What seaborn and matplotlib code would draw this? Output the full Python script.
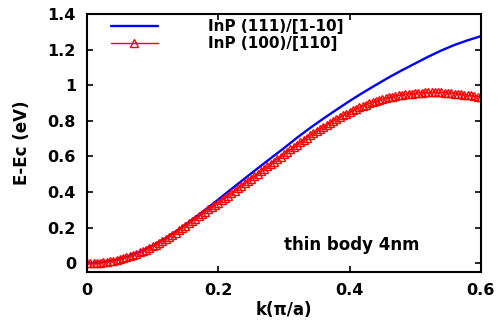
import numpy as np
import pandas as pd
import matplotlib
matplotlib.use("Agg")
import matplotlib.pyplot as plt
import seaborn as sns

# k grid (pi/a) and band energies
k_111 = [0.00, 0.02, 0.04, 0.06, 0.08, 0.10, 0.12, 0.14, 0.16, 0.18,
         0.20, 0.22, 0.24, 0.26, 0.28, 0.30, 0.32, 0.34, 0.36, 0.38,
         0.40, 0.42, 0.44, 0.46, 0.48, 0.50, 0.52, 0.54, 0.56, 0.58, 0.60]
e_111 = [0.000, 0.004, 0.016, 0.036, 0.064, 0.100, 0.142, 0.190, 0.244, 0.300,
         0.358, 0.417, 0.475, 0.533, 0.590, 0.646, 0.705, 0.760, 0.812, 0.862,
         0.911, 0.957, 1.001, 1.044, 1.084, 1.122, 1.160, 1.195, 1.226, 1.252, 1.275]

k_100 = np.round(np.linspace(0.0, 0.6, 121), 3)
e_100 = [0.000, 0.000, 0.001, 0.002, 0.004, 0.006, 0.009, 0.012, 0.015, 0.019,
         0.024, 0.029, 0.034, 0.040, 0.047, 0.053, 0.061, 0.069, 0.077, 0.086,
         0.095, 0.105, 0.115, 0.126, 0.137, 0.148, 0.160, 0.172, 0.185, 0.198,
         0.211, 0.224, 0.237, 0.250, 0.263, 0.276, 0.289, 0.302, 0.315, 0.328,
         0.341, 0.354, 0.367, 0.380, 0.394, 0.407, 0.421, 0.434, 0.448, 0.462,
         0.475, 0.489, 0.503, 0.517, 0.530, 0.544, 0.558, 0.571, 0.585, 0.598,
         0.612, 0.626, 0.639, 0.653, 0.666, 0.680, 0.693, 0.706, 0.718, 0.731,
         0.743, 0.755, 0.766, 0.777, 0.788, 0.799, 0.810, 0.820, 0.830, 0.840,
         0.849, 0.858, 0.867, 0.875, 0.883, 0.891, 0.898, 0.905, 0.911, 0.917,
         0.922, 0.927, 0.932, 0.936, 0.940, 0.943, 0.946, 0.949, 0.951, 0.953,
         0.955, 0.957, 0.958, 0.959, 0.959, 0.960, 0.960, 0.959, 0.959, 0.958,
         0.956, 0.955, 0.953, 0.951, 0.949, 0.947, 0.944, 0.942, 0.939, 0.936,
         0.933]

x_ticks = [0, 0.2, 0.4, 0.6]
x_labels = ["0", "0.2", "0.4", "0.6"]
y_ticks = [0, 0.2, 0.4, 0.6, 0.8, 1.0, 1.2, 1.4]
y_labels = ["0", "0.2", "0.4", "0.6", "0.8", "1", "1.2", "1.4"]

df_111 = pd.DataFrame({"k": k_111, "E": e_111})
df_100 = pd.DataFrame({"k": k_100, "E": e_100})

sns.set_theme(style="ticks")
plt.rcParams["font.family"] = ["DejaVu Sans"]
plt.rcParams["font.weight"] = "bold"
plt.rcParams["text.color"] = "black"
plt.rcParams["axes.labelcolor"] = "black"
plt.rcParams["xtick.color"] = "black"
plt.rcParams["ytick.color"] = "black"

fig = plt.figure(figsize=(5.04, 3.24), dpi=100)
ax = fig.add_axes([0.1726, 0.160, 0.7814, 0.797])

sns.lineplot(data=df_111, x="k", y="E", ax=ax, color="#0000ff", linewidth=1.7,
             label="InP (111)/[1-10]")
sns.lineplot(data=df_100, x="k", y="E", ax=ax, color="#ff0000", linewidth=1.0,
             marker="^", markersize=5.5, markerfacecolor="none",
             markeredgecolor="#ff0000", markeredgewidth=1.0,
             label="InP (100)/[110]")

ax.set_xlim(0, 0.6)
ax.set_ylim(-0.05, 1.4)
ax.set_xticks(x_ticks)
ax.set_xticklabels(x_labels)
ax.set_yticks(y_ticks)
ax.set_yticklabels(y_labels)
ax.tick_params(direction="in", top=True, right=True, length=4, width=1.2,
               labelsize=11.5, pad=8)
for s in ax.spines.values():
    s.set_linewidth(1.5)
    s.set_color("black")

ax.set_xlabel("k(\u03c0/a)", fontsize=12, fontweight="bold", labelpad=2)
ax.set_ylabel("E-Ec (eV)", fontsize=12, fontweight="bold", labelpad=12)

ax.text(0.3, 0.1, "thin body 4nm", fontsize=12, fontweight="bold",
        ha="left", va="center")

leg = ax.legend(loc="upper left", bbox_to_anchor=(0.025, 1.033), frameon=False,
                handlelength=3.1, handletextpad=3.3, labelspacing=0.12,
                prop={"size": 11, "weight": "bold"})

fig.savefig("out.png", dpi=100)
